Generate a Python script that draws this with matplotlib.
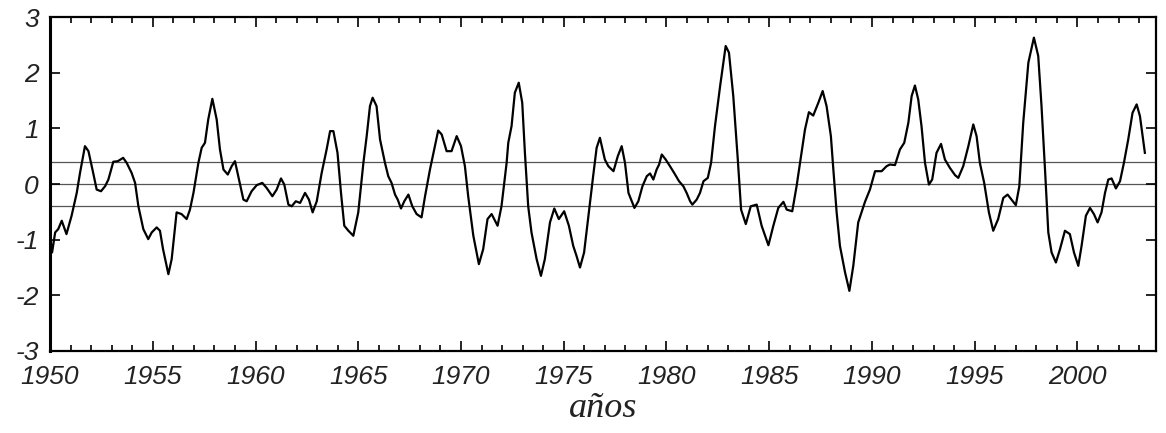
import matplotlib
matplotlib.use("Agg")
import matplotlib.pyplot as plt
from matplotlib.ticker import MultipleLocator

plt.rcParams["axes.unicode_minus"] = False

years = [
    1950.0, 1950.1, 1950.25, 1950.4, 1950.57, 1950.8, 1951.05, 1951.3, 1951.46, 1951.7,
    1951.87, 1952.1, 1952.27, 1952.48, 1952.68, 1952.84, 1953.08, 1953.3, 1953.56, 1953.73,
    1953.97, 1954.14, 1954.3, 1954.54, 1954.78, 1954.95, 1955.19, 1955.35, 1955.5, 1955.76,
    1955.92, 1956.16, 1956.4, 1956.65, 1956.81, 1956.98, 1957.22, 1957.38, 1957.54, 1957.7,
    1957.9, 1958.11, 1958.27, 1958.44, 1958.65, 1958.84, 1959.0, 1959.16, 1959.41, 1959.57,
    1959.81, 1960.06, 1960.33, 1960.54, 1960.82, 1961.03, 1961.24, 1961.4, 1961.6, 1961.76,
    1961.96, 1962.17, 1962.41, 1962.6, 1962.78, 1962.98, 1963.22, 1963.46, 1963.63, 1963.79,
    1963.99, 1964.16, 1964.32, 1964.52, 1964.76, 1965.0, 1965.25, 1965.41, 1965.57, 1965.7,
    1965.89, 1966.06, 1966.3, 1966.46, 1966.62, 1966.79, 1966.92, 1967.08, 1967.24, 1967.44,
    1967.63, 1967.84, 1968.08, 1968.25, 1968.49, 1968.73, 1968.89, 1969.06, 1969.3, 1969.54,
    1969.79, 1970.0, 1970.19, 1970.35, 1970.6, 1970.87, 1971.08, 1971.29, 1971.49, 1971.78,
    1971.97, 1972.22, 1972.3, 1972.46, 1972.62, 1972.81, 1972.98, 1973.11, 1973.27, 1973.43,
    1973.68, 1973.89, 1974.08, 1974.33, 1974.54, 1974.76, 1975.02, 1975.25, 1975.46, 1975.62,
    1975.79, 1975.99, 1976.22, 1976.43, 1976.6, 1976.76, 1977.0, 1977.17, 1977.42, 1977.63,
    1977.82, 1977.98, 1978.15, 1978.44, 1978.63, 1978.83, 1979.04, 1979.2, 1979.36, 1979.52,
    1979.64, 1979.77, 1979.96, 1980.17, 1980.42, 1980.61, 1980.82, 1980.98, 1981.15, 1981.26,
    1981.47, 1981.63, 1981.8, 1982.01, 1982.17, 1982.36, 1982.61, 1982.88, 1983.04, 1983.25,
    1983.47, 1983.63, 1983.86, 1984.1, 1984.39, 1984.63, 1984.96, 1985.2, 1985.44, 1985.69,
    1985.85, 1986.12, 1986.33, 1986.5, 1986.74, 1986.93, 1987.14, 1987.39, 1987.6, 1987.79,
    1988.0, 1988.12, 1988.28, 1988.44, 1988.69, 1988.9, 1989.09, 1989.33, 1989.66, 1989.9,
    1990.15, 1990.47, 1990.71, 1990.87, 1991.12, 1991.36, 1991.57, 1991.77, 1991.93, 1992.09,
    1992.25, 1992.41, 1992.58, 1992.77, 1992.93, 1993.14, 1993.36, 1993.55, 1993.79, 1994.04,
    1994.2, 1994.44, 1994.69, 1994.93, 1995.09, 1995.25, 1995.46, 1995.69, 1995.9, 1996.14,
    1996.39, 1996.6, 1996.79, 1997.0, 1997.17, 1997.36, 1997.61, 1997.88, 1998.09, 1998.25,
    1998.42, 1998.58, 1998.74, 1998.95, 1999.15, 1999.39, 1999.63, 1999.83, 2000.04, 2000.2,
    2000.41, 2000.61, 2000.8, 2000.98, 2001.17, 2001.34, 2001.5, 2001.66, 2001.87, 2002.07,
    2002.26, 2002.47, 2002.68, 2002.88, 2003.04, 2003.28,
]
values = [
    -0.93, -1.23, -0.87, -0.81, -0.66, -0.90, -0.57, -0.16, 0.20, 0.68,
    0.59, 0.20, -0.10, -0.13, -0.04, 0.08, 0.40, 0.41, 0.47, 0.38,
    0.20, 0.02, -0.40, -0.81, -0.99, -0.87, -0.78, -0.84, -1.17, -1.62,
    -1.35, -0.51, -0.54, -0.63, -0.46, -0.16, 0.38, 0.65, 0.74, 1.16,
    1.53, 1.16, 0.62, 0.26, 0.17, 0.32, 0.41, 0.14, -0.28, -0.31,
    -0.13, -0.02, 0.02, -0.07, -0.22, -0.10, 0.10, -0.01, -0.37, -0.40,
    -0.31, -0.34, -0.16, -0.28, -0.51, -0.31, 0.20, 0.62, 0.95, 0.95,
    0.56, -0.16, -0.75, -0.84, -0.93, -0.51, 0.38, 0.86, 1.40, 1.55,
    1.40, 0.80, 0.38, 0.14, 0.02, -0.19, -0.28, -0.44, -0.31, -0.19,
    -0.40, -0.54, -0.60, -0.22, 0.26, 0.68, 0.96, 0.89, 0.59, 0.59,
    0.86, 0.68, 0.32, -0.22, -0.93, -1.44, -1.17, -0.63, -0.54, -0.75,
    -0.40, 0.38, 0.74, 1.04, 1.64, 1.82, 1.46, 0.56, -0.40, -0.87,
    -1.35, -1.65, -1.35, -0.69, -0.44, -0.63, -0.49, -0.75, -1.11, -1.29,
    -1.50, -1.23, -0.51, 0.14, 0.65, 0.83, 0.44, 0.32, 0.23, 0.50,
    0.68, 0.38, -0.16, -0.43, -0.31, -0.04, 0.14, 0.19, 0.08, 0.26,
    0.35, 0.53, 0.44, 0.32, 0.17, 0.05, -0.04, -0.16, -0.31, -0.37,
    -0.28, -0.16, 0.05, 0.11, 0.38, 1.04, 1.76, 2.48, 2.36, 1.58,
    0.44, -0.46, -0.72, -0.40, -0.37, -0.75, -1.10, -0.75, -0.43, -0.32,
    -0.46, -0.49, -0.04, 0.38, 0.98, 1.29, 1.23, 1.46, 1.67, 1.40,
    0.86, 0.26, -0.51, -1.11, -1.59, -1.92, -1.47, -0.69, -0.32, -0.10,
    0.23, 0.23, 0.32, 0.35, 0.34, 0.62, 0.74, 1.10, 1.58, 1.77,
    1.52, 1.04, 0.38, -0.01, 0.08, 0.56, 0.72, 0.44, 0.29, 0.16,
    0.11, 0.32, 0.68, 1.07, 0.86, 0.38, 0.02, -0.51, -0.84, -0.63,
    -0.25, -0.19, -0.28, -0.38, -0.04, 1.10, 2.18, 2.63, 2.30, 1.40,
    0.26, -0.87, -1.23, -1.41, -1.17, -0.84, -0.90, -1.23, -1.47, -1.11,
    -0.57, -0.43, -0.54, -0.69, -0.51, -0.16, 0.08, 0.10, -0.08, 0.05,
    0.38, 0.80, 1.28, 1.43, 1.22, 0.56,
]
thresholds = [0.4, 0.0, -0.4]
x_ticks = [1950, 1955, 1960, 1965, 1970, 1975, 1980, 1985, 1990, 1995, 2000]
y_ticks = [-3, -2, -1, 0, 1, 2, 3]
x_label = "años"

fig = plt.figure(figsize=(11.66, 4.33), dpi=100)
ax = fig.add_axes([0.0429, 0.1894, 0.9485, 0.7713])

for t in thresholds:
    ax.axhline(t, color="#555555", linewidth=0.9, zorder=1)

ax.plot(years, values, color="black", linewidth=1.6, zorder=3)

ax.set_xlim(1950, 2003.82)
ax.set_ylim(-3, 3)
ax.set_xticks(x_ticks)
ax.set_yticks(y_ticks)
ax.xaxis.set_minor_locator(MultipleLocator(1))

ax.tick_params(axis="both", which="major", direction="in", length=7, width=1.2,
               top=True, right=True, labelsize=19, labelcolor="#222222")
ax.tick_params(axis="x", which="major", pad=10)
ax.tick_params(axis="y", which="major", pad=8)
ax.tick_params(axis="x", which="minor", direction="in", length=4, width=1.2,
               top=True, bottom=True)

for lab in ax.get_xticklabels() + ax.get_yticklabels():
    lab.set_family("Liberation Sans")
    lab.set_style("italic")

for s in ax.spines.values():
    s.set_linewidth(1.6)
    s.set_color("black")
ax.spines["left"].set_linewidth(2.2)

ax.set_xlabel(x_label, family="Liberation Serif", style="italic", fontsize=26,
              labelpad=2, color="#222222")

fig.savefig("out.png", dpi=100)
